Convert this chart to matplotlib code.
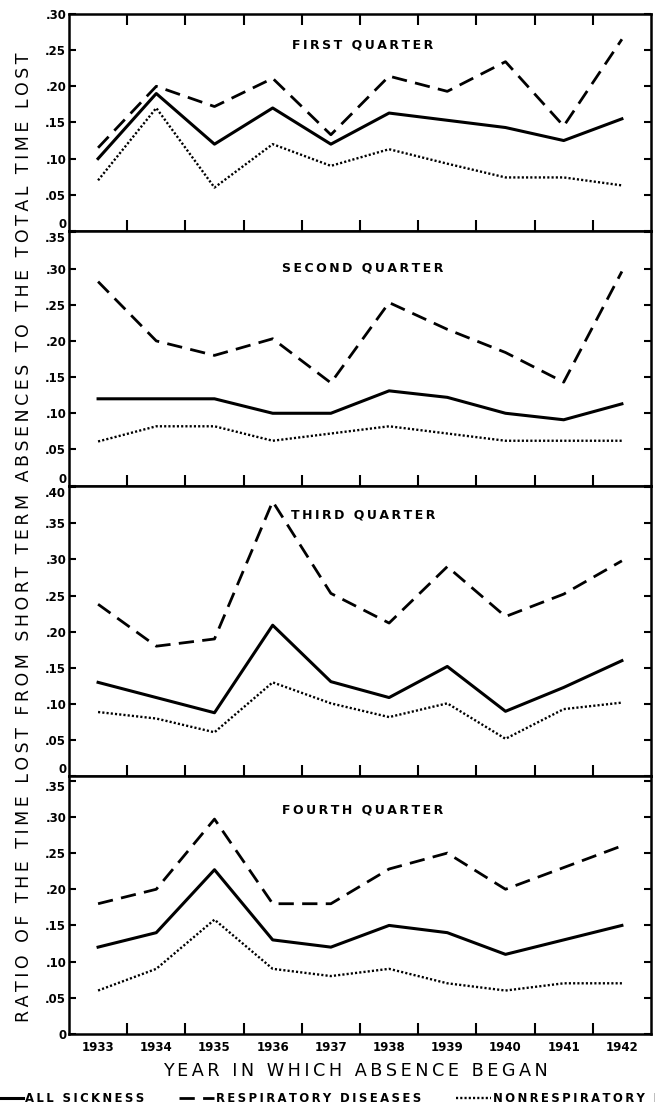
import numpy as np
import matplotlib.pyplot as plt
from matplotlib.lines import Line2D
from matplotlib.transforms import blended_transform_factory

years = [1933, 1934, 1935, 1936, 1937, 1938, 1939, 1940, 1941, 1942]
quarters = ['FIRST QUARTER', 'SECOND QUARTER', 'THIRD QUARTER', 'FOURTH QUARTER']

# ratio values, one list per quarter
all_sickness = [
    [0.10, 0.19, 0.12, 0.17, 0.12, 0.163, 0.153, 0.143, 0.125, 0.155],
    [0.12, 0.12, 0.12, 0.10, 0.10, 0.131, 0.122, 0.10, 0.091, 0.113],
    [0.13, 0.109, 0.088, 0.209, 0.131, 0.109, 0.152, 0.09, 0.123, 0.16],
    [0.12, 0.14, 0.227, 0.13, 0.12, 0.15, 0.14, 0.11, 0.13, 0.15],
]
respiratory = [
    [0.115, 0.20, 0.172, 0.211, 0.133, 0.214, 0.193, 0.234, 0.145, 0.265],
    [0.282, 0.20, 0.18, 0.203, 0.142, 0.253, 0.216, 0.184, 0.143, 0.296],
    [0.238, 0.18, 0.19, 0.38, 0.253, 0.212, 0.29, 0.221, 0.252, 0.298],
    [0.18, 0.20, 0.297, 0.18, 0.18, 0.228, 0.25, 0.20, 0.23, 0.26],
]
nonrespiratory = [
    [0.07, 0.17, 0.06, 0.12, 0.09, 0.113, 0.093, 0.074, 0.074, 0.063],
    [0.061, 0.082, 0.082, 0.062, 0.072, 0.082, 0.072, 0.062, 0.062, 0.062],
    [0.089, 0.08, 0.061, 0.13, 0.101, 0.082, 0.101, 0.052, 0.093, 0.102],
    [0.06, 0.09, 0.158, 0.09, 0.08, 0.09, 0.07, 0.06, 0.07, 0.07],
]
tick_tops = [0.30, 0.35, 0.40, 0.35]

# axis limits / title heights (layout only)
y_tops = [0.30, 0.352, 0.402, 0.356]
title_y = [0.257, 0.301, 0.361, 0.310]


def spaced(s):
    return '\u2009'.join(s)


fig = plt.figure(figsize=(6.55, 11.07), dpi=100)
gs = fig.add_gridspec(4, 1, height_ratios=y_tops, hspace=0,
                      left=0.1053, right=0.9939, top=0.9874, bottom=0.0660)

solid = dict(color='black', lw=2.2)
dashed = dict(color='black', lw=2.0, linestyle=(0, (5.5, 3)))
dotted = dict(color='black', lw=1.7, linestyle=(0, (0.9, 0.9)))

for i in range(4):
    ax = fig.add_subplot(gs[i])
    ax.plot(years, all_sickness[i], **solid)
    ax.plot(years, respiratory[i], **dashed)
    ax.plot(years, nonrespiratory[i], **dotted)

    ax.set_xlim(1932.5, 1942.5)
    ax.set_ylim(0, y_tops[i])
    for sp in ax.spines.values():
        sp.set_linewidth(1.8)

    yt = np.round(np.arange(0, tick_tops[i] + 0.001, 0.05), 2)
    labels = ['0' if v == 0 else f'{v:.2f}'[1:] for v in yt]
    ax.set_yticks(yt)
    ax.set_yticklabels(labels, fontsize=8.5, fontweight='bold')
    ax.tick_params(axis='y', direction='in', left=True, right=True,
                   length=5, width=1.5, pad=2)
    tl = ax.get_yticklabels()
    if i < 3:
        tl[0].set_va('bottom')
    if i > 0:
        tl[-1].set_va('top')

    ax.set_xticks(years)
    ax.set_xticks(np.arange(1933.5, 1942, 1), minor=True)
    ax.tick_params(axis='x', which='major', length=0, pad=5,
                   labelbottom=(i == 3), labelsize=8.5)
    ax.tick_params(axis='x', which='minor', direction='in', length=8, width=1.5,
                   bottom=True, top=(i == 0))
    if i == 3:
        for t in ax.get_xticklabels():
            t.set_fontweight('bold')

    trans = blended_transform_factory(ax.transAxes, ax.transData)
    ax.text(0.505, title_y[i], spaced(quarters[i]), transform=trans,
            ha='center', va='center', fontsize=9, fontweight='bold')

fig.text(0.037, 0.515,
         spaced('RATIO OF THE TIME LOST FROM SHORT TERM ABSENCES TO THE TOTAL TIME LOST'),
         rotation=90, ha='center', va='center', fontsize=12.5)
fig.text(0.543, 0.0325, spaced('YEAR IN WHICH ABSENCE BEGAN'),
         ha='center', va='center', fontsize=12.7)

handles = [Line2D([], [], **solid), Line2D([], [], **dashed), Line2D([], [], **dotted)]
names = ['ALL SICKNESS', 'RESPIRATORY DISEASES', 'NONRESPIRATORY DISEASES']
fig.legend(handles, [spaced(n) for n in names], loc='center left',
           bbox_to_anchor=(-0.018, 0.008), ncol=3, frameon=False,
           handlelength=3.0, handletextpad=0.15, columnspacing=3.0,
           borderpad=0, borderaxespad=0, prop={'weight': 'bold', 'size': 8.4})

fig.savefig('out.png', dpi=100)
